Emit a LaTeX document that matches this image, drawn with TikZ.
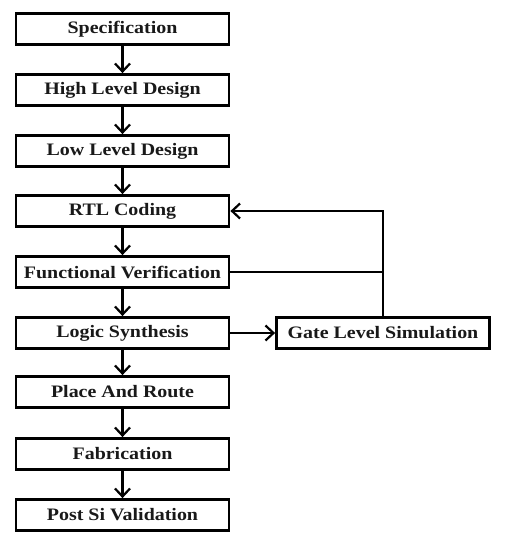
\documentclass[tikz,border=0pt]{standalone}
\usepackage{fontspec}
\setmainfont{Liberation Serif}
\usetikzlibrary{arrows.meta}
\begin{document}
\begin{tikzpicture}[x=1pt,y=-1pt,
  stage/.style={draw=black, line width=2.8pt, minimum width=213pt, minimum height=31pt, inner sep=0pt,
    font=\fontsize{17.5}{19}\selectfont\bfseries, text=black!90},
  flow/.style={line width=2.2pt, -{Straight Barb[length=8pt,width=15pt,line width=2.2pt]}},
  link/.style={line width=2.2pt}]
\useasboundingbox (0,0) rectangle (509,557);
\newcommand{\wtxt}[1]{\scalebox{1.14}[1]{#1}}
\node[stage] (s1) at (122.5,29) {\wtxt{Specification}};
\node[stage] (s2) at (122.5,90) {\wtxt{High Level Design}};
\node[stage] (s3) at (122.5,151) {\wtxt{Low Level Design}};
\node[stage] (s4) at (122.5,211) {\wtxt{RTL Coding}};
\node[stage] (s5) at (122.5,272) {\wtxt{Functional Verification}};
\node[stage] (s6) at (122.5,333) {\wtxt{Logic Synthesis}};
\node[stage] (s7) at (122.5,392) {\wtxt{Place And Route}};
\node[stage] (s8) at (122.5,454) {\wtxt{Fabrication}};
\node[stage] (s9) at (122.5,515) {\wtxt{Post Si Validation}};
\node[stage] (g) at (383,333) {\wtxt{Gate Level Simulation}};
\coordinate (j) at (g.north |- s5.east);
\draw[flow] (s1) -- (s2);
\draw[flow] (s2) -- (s3);
\draw[flow] (s3) -- (s4);
\draw[flow] (s4) -- (s5);
\draw[flow] (s5) -- (s6);
\draw[flow] (s6) -- (s7);
\draw[flow] (s7) -- (s8);
\draw[flow] (s8) -- (s9);
\draw[flow] (s6) -- (g);
\draw[flow] (g.north) |- (s4.east);
\draw[link] (s5.east) -- (j);
\end{tikzpicture}
\end{document}
